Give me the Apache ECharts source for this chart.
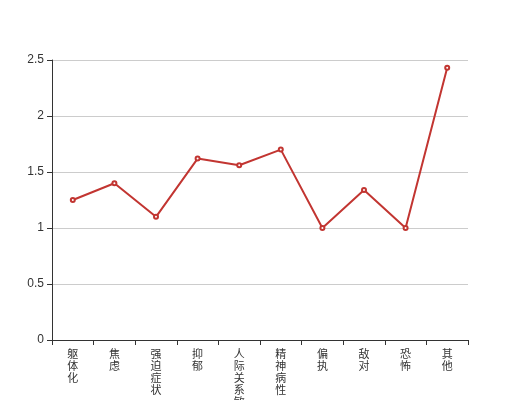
<!DOCTYPE html>
<html>
<head>
<meta charset="utf-8">
<script src="https://cdn.jsdelivr.net/npm/echarts@6/dist/echarts.min.js"></script>
<style>
body { margin: 0; padding: 0; }
#main { width: 520px; height: 400px; }
</style>
</head>
<body>
<div id="main"></div>
<script>
const categories = ["躯体化", "焦虑", "强迫症状", "抑郁", "人际关系敏感", "精神病性", "偏执", "敌对", "恐怖", "其他"];
const scores = [1.25, 1.40, 1.10, 1.62, 1.56, 1.70, 1.00, 1.34, 1.00, 2.43];

const chart = echarts.init(document.getElementById("main"));
chart.setOption({
  animation: false,
  grid: { left: 52, right: 52, top: 60, bottom: 60, containLabel: false, outerBoundsMode: "none" },
  xAxis: {
    type: "category",
    data: categories,
    axisLine: { show: true, lineStyle: { color: "#333" } },
    axisTick: { show: true, lineStyle: { color: "#333" } },
    axisLabel: {
      interval: 0,
      color: "#333",
      fontSize: 11,
      lineHeight: 12,
      fontFamily: "Noto Sans CJK SC",
      formatter: function (v) { return v.split("").join("\n"); }
    }
  },
  yAxis: {
    type: "value",
    min: 0,
    max: 2.5,
    interval: 0.5,
    axisLine: { show: true, lineStyle: { color: "#333" } },
    axisTick: { show: true, lineStyle: { color: "#333" } },
    axisLabel: { color: "#333", fontSize: 12 },
    splitLine: { lineStyle: { color: "#ccc" } }
  },
  series: [{
    type: "line",
    data: scores,
    symbol: "emptyCircle",
    symbolSize: 4,
    itemStyle: { color: "#c23531" },
    lineStyle: { color: "#c23531", width: 2 }
  }]
});
</script>
</body>
</html>
